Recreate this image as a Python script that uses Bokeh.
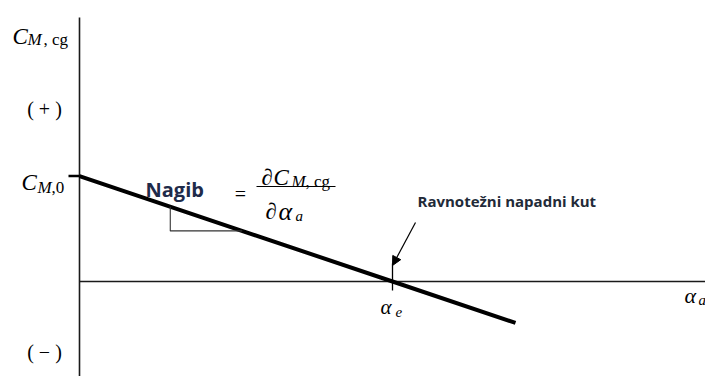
from bokeh.plotting import figure
from bokeh.models import Range1d, Arrow, NormalHead
from bokeh.core.properties import value
from bokeh.embed import file_html
from bokeh.resources import INLINE

# ---- conceptual data (moment coefficient vs angle of attack) ----
alpha_line = [0.0, 10.0, 13.93]      # angle of attack (arbitrary units)
cm_line = [0.10, 0.0, -0.0393]       # C_M,cg along the line
cm0 = 0.10                           # C_M,0 intercept
alpha_e = 10.0                       # trim (equilibrium) angle
slope = -0.01                        # dC_M/dalpha
tri_alpha = [2.9, 5.2]               # slope triangle extent

# pixel scale of the drawing (layout only)
SX = 31.3      # px per alpha unit
SY = 1054.0    # px per C_M unit
OX, OY = 79, 281  # origin in picture pixels
W, H = 705, 376

def ax(px):
    return (px - OX) / SX

def ay(py):
    return (OY - py) / SY

p = figure(width=W, height=H, output_backend="svg", toolbar_location=None,
           x_range=Range1d(ax(0), ax(W)), y_range=Range1d(ay(H), ay(0)),
           min_border=0, background_fill_color="white", border_fill_color="white")
p.axis.visible = False
p.grid.visible = False
p.outline_line_color = None

AX_COL = "#1a1a1a"
# axes
p.segment(x0=[0.0], y0=[ay(17)], x1=[0.0], y1=[ay(390)], line_color=AX_COL, line_width=1.6)
p.segment(x0=[0.0], y0=[0.0], x1=[ax(720)], y1=[0.0], line_color=AX_COL, line_width=1.6)

# C_M,0 tick
p.segment(x0=[ax(68)], y0=[cm0], x1=[0.0], y1=[cm0], line_color="black", line_width=2.5)
# alpha_e tick
p.segment(x0=[alpha_e], y0=[ay(263)], x1=[alpha_e], y1=[ay(290)], line_color="black", line_width=1.3)

# main line
p.line(alpha_line, cm_line, line_color="black", line_width=4)

# slope triangle
cm_a = cm0 + slope * tri_alpha[0]
cm_b = cm0 + slope * tri_alpha[1]
p.line([tri_alpha[0], tri_alpha[0], tri_alpha[1]], [cm_a, cm_b, cm_b],
       line_color="#333333", line_width=1.1)

# arrow to trim point
p.add_layout(Arrow(end=NormalHead(size=9, fill_color="black", line_color="black"),
                   x_start=ax(415), y_start=ay(222), x_end=alpha_e, y_end=ay(265),
                   line_color="black", line_width=1.2))

SERIF = value("Liberation Serif")
SANS = value("Open Sans")

def txt(px, py, s, size, font=SERIF, style="normal", color="black", align="left"):
    p.text(x=[ax(px)], y=[ay(py)], text=[s], text_font=font, text_font_style=style,
           text_font_size=size, text_color=color, text_align=align,
           text_baseline="alphabetic")

# y-axis label C_M, cg
txt(12, 36, "C", "23px", style="italic")
txt(27, 39, "M", "17px", style="italic")
txt(43, 39, ", cg", "17px")

# (+) and (-)
txt(44, 108, "( + )", "20px", align="center")
txt(44, 351, "( \u2212 )", "20px", align="center")

# C_M,0
txt(21, 182, "C", "23px", style="italic")
txt(37, 187, "M", "17px", style="italic")
txt(51, 187, ",0", "17px")

# Nagib = dC/dalpha
txt(145, 189, "Nagib", "20px", font=SANS, style="bold", color="#1f2b4a")
txt(240, 193, "=", "20px", align="center")
txt(261, 177, "\u2202", "23px")
txt(273, 177, "C", "23px", style="italic")
txt(291, 181, "M", "17px", style="italic")
txt(305, 181, ", cg", "17px")
p.segment(x0=[ax(256)], y0=[ay(186)], x1=[ax(335)], y1=[ay(186)], line_color="black", line_width=1.2)
txt(265, 211, "\u2202", "23px")
txt(278, 211, "\u03b1", "26px", style="italic")
txt(295, 215, "a", "15px", style="italic")

# Ravnotezni napadni kut
txt(417, 200, "Ravnote\u017eni napadni kut", "15px", font=SANS, style="bold", color="#222a38")

# alpha_e
txt(380, 306, "\u03b1", "21px", style="italic")
txt(395, 311, "e", "15px", style="italic")

# alpha_a
txt(684, 295, "\u03b1", "22px", style="italic")
txt(698, 299, "a", "15px", style="italic")

open("out.html", "w").write(file_html(p, INLINE))
